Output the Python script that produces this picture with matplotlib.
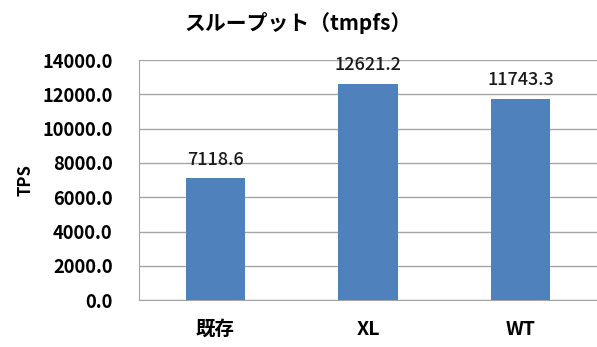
import matplotlib
matplotlib.use("Agg")
import matplotlib.pyplot as plt

plt.rcParams['font.family'] = ['Noto Sans CJK JP', 'DejaVu Sans']

# スループット測定結果
categories = ["既存", "XL", "WT"]
tps = [7118.6, 12621.2, 11743.3]
yticks = [0, 2000, 4000, 6000, 8000, 10000, 12000, 14000]

fig = plt.figure(figsize=(5.97, 3.47), dpi=100)
ax = fig.add_axes([0.233, 0.135, 0.767, 0.692])

x = range(len(categories))
bars = ax.bar(x, tps, width=0.39, color="#4F81BD", zorder=3)

for xi, v in zip(x, tps):
    ax.text(xi, v + 550, f"{v:.1f}", ha="center", va="bottom",
            fontsize=13, fontweight="medium", color="#1a1a1a")

ax.set_xlim(-0.5, 2.5)
ax.set_ylim(0, 14000)
ax.set_yticks(yticks)
ax.set_yticklabels([f"{t:.1f}" for t in yticks], fontsize=13.2, fontweight="bold")
ax.set_xticks(list(x))
ax.set_xticklabels(categories, fontsize=14, fontweight="bold")
ax.tick_params(axis="both", length=0)
ax.tick_params(axis="y", pad=19)
ax.tick_params(axis="x", pad=14)

ax.grid(axis="y", color="#a6a6a6", linewidth=1, zorder=0)
for side in ["top", "right"]:
    ax.spines[side].set_visible(False)
ax.spines["left"].set_color("#a6a6a6")
ax.spines["bottom"].set_color("#a6a6a6")

ax.set_ylabel("TPS", fontsize=12, fontweight="bold", labelpad=6)
fig.text(0.5, 0.935, "スループット（tmpfs）", ha="center", va="center",
         fontsize=15, fontweight="bold")

fig.savefig("out.png", dpi=100)
